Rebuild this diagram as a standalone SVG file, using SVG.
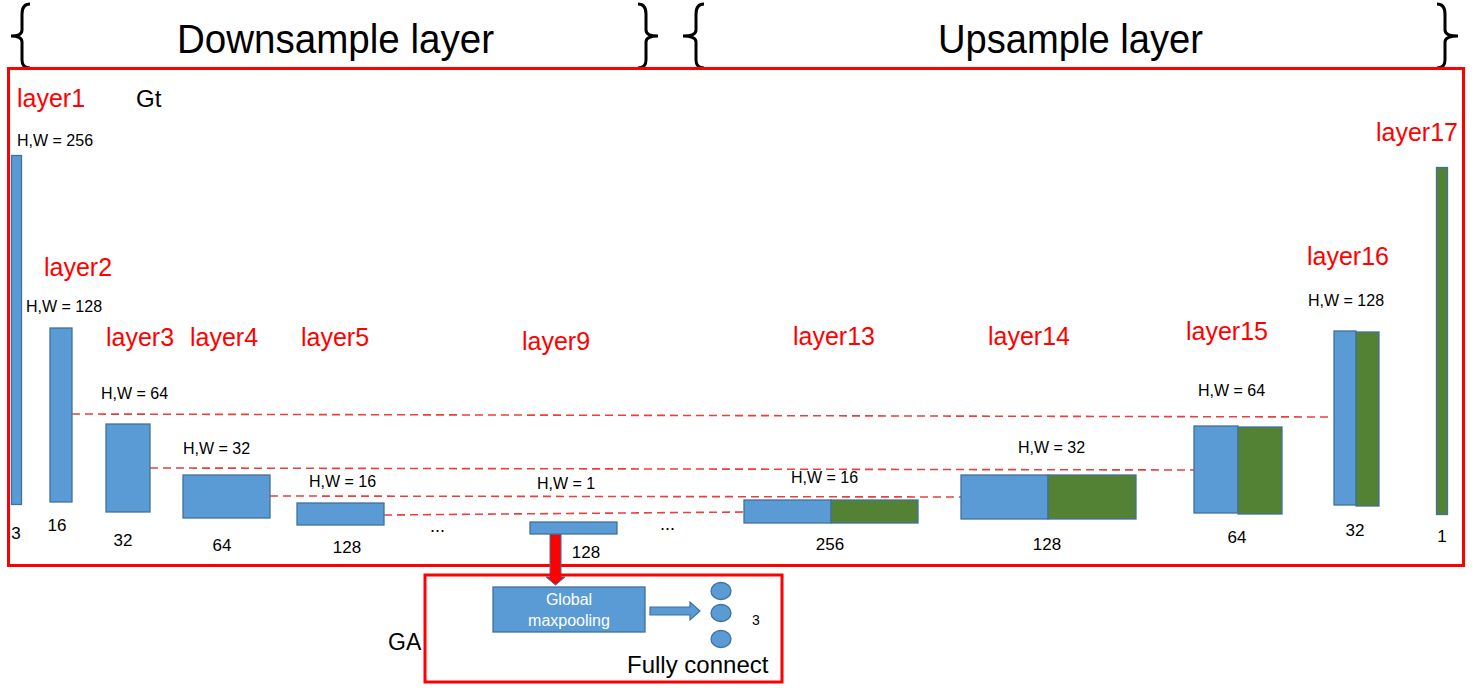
<svg xmlns="http://www.w3.org/2000/svg" width="1476" height="700" viewBox="0 0 1476 700">
<defs>
<style>
.t{font-family:"Liberation Sans",Arial,sans-serif;fill:#000}
.big{font-size:41px}
.lay{font-size:25px;fill:#ff0000}
.hw{font-size:16px}
.num{font-size:17px}
.b{fill:#5b9bd5;stroke:#41719c;stroke-width:1.3}
.g{fill:#548235;stroke:#41719c;stroke-width:1.3}
.brace{fill:none;stroke:#000;stroke-width:3}
.frame{fill:none;stroke:#ff0000;stroke-width:3}
.dash{stroke:#e8403c;stroke-width:1.6;stroke-dasharray:8 5;fill:none}
</style>
</defs>
<rect width="1476" height="700" fill="#fff"/>

<g id="braces">
<path class="brace" d="M30,4 Q22,4 22,14 L22,30 Q22,36 11,36 Q22,36 22,42 L22,60 Q22,68 30,68"/>
<path class="brace" d="M638,4 Q646,4 646,14 L646,30 Q646,36 658,36 Q646,36 646,42 L646,60 Q646,68 638,68"/>
<path class="brace" d="M704,4 Q696,4 696,14 L696,30 Q696,36 683,36 Q696,36 696,42 L696,60 Q696,68 704,68"/>
<path class="brace" d="M1437,4 Q1445,4 1445,14 L1445,30 Q1445,36 1458,36 Q1445,36 1445,42 L1445,60 Q1445,68 1437,68"/>
</g>
<text class="t big" x="177" y="53" textLength="317" lengthAdjust="spacingAndGlyphs">Downsample layer</text>
<text class="t big" x="938" y="53" textLength="265" lengthAdjust="spacingAndGlyphs">Upsample layer</text>

<g id="Gt">
<rect class="frame" x="8.5" y="68.5" width="1455" height="497"/>
<text class="t" x="136" y="107" font-size="24">Gt</text>
</g>

<g id="connectors">
<line class="dash" x1="72" y1="414" x2="1333" y2="417"/>
<line class="dash" x1="150" y1="468" x2="1194" y2="470"/>
<line class="dash" x1="270" y1="496" x2="961" y2="497"/>
<line class="dash" x1="384" y1="515" x2="744" y2="512"/>
<path d="M550,534 L550,577 L546,577 L555.5,585 L565,577 L561,577 L561,534 Z" fill="#ff0000" stroke="#41719c" stroke-width="1"/>
<path d="M650,607 L690,607 L690,602 L700,611 L690,620 L690,615 L650,615 Z" fill="#5b9bd5" stroke="#41719c" stroke-width="1.2"/>
</g>

<g id="layer1">
<text class="t lay" x="17" y="107">layer1</text>
<text class="t hw" x="17" y="146">H,W = 256</text>
<rect class="b" x="11.5" y="155.5" width="10" height="349"/>
<text class="t num" x="16" y="539" text-anchor="middle">3</text>
</g>
<g id="layer2">
<text class="t lay" x="44" y="276">layer2</text>
<text class="t hw" x="26" y="312">H,W = 128</text>
<rect class="b" x="50" y="328" width="22" height="174"/>
<text class="t num" x="57" y="531" text-anchor="middle">16</text>
</g>
<g id="layer3">
<text class="t lay" x="106" y="346">layer3</text>
<text class="t hw" x="101" y="399">H,W = 64</text>
<rect class="b" x="106" y="424" width="44" height="88"/>
<text class="t num" x="123" y="546" text-anchor="middle">32</text>
</g>
<g id="layer4">
<text class="t lay" x="190" y="346">layer4</text>
<text class="t hw" x="183" y="454">H,W = 32</text>
<rect class="b" x="183" y="475" width="87" height="43"/>
<text class="t num" x="222" y="551" text-anchor="middle">64</text>
</g>
<g id="layer5">
<text class="t lay" x="301" y="346">layer5</text>
<text class="t hw" x="309" y="487">H,W = 16</text>
<rect class="b" x="297" y="503" width="87" height="22"/>
<text class="t num" x="347" y="553" text-anchor="middle">128</text>
</g>
<text class="t" x="430" y="532" font-size="18">...</text>
<g id="layer9">
<text class="t lay" x="522" y="350">layer9</text>
<text class="t hw" x="537" y="489">H,W = 1</text>
<rect class="b" x="530" y="522" width="87" height="12"/>
<text class="t num" x="586" y="558" text-anchor="middle">128</text>
</g>
<text class="t" x="660" y="530" font-size="18">...</text>
<g id="layer13">
<text class="t lay" x="793" y="345">layer13</text>
<text class="t hw" x="791" y="483">H,W = 16</text>
<rect class="b" x="744" y="500" width="87" height="23"/>
<rect class="g" x="831" y="500" width="87" height="23"/>
<text class="t num" x="830" y="550" text-anchor="middle">256</text>
</g>
<g id="layer14">
<text class="t lay" x="988" y="345">layer14</text>
<text class="t hw" x="1018" y="453">H,W = 32</text>
<rect class="b" x="961" y="475" width="87" height="44"/>
<rect class="g" x="1048" y="475" width="88" height="44"/>
<text class="t num" x="1047" y="550" text-anchor="middle">128</text>
</g>
<g id="layer15">
<text class="t lay" x="1186" y="340">layer15</text>
<text class="t hw" x="1198" y="396">H,W = 64</text>
<rect class="b" x="1194" y="426" width="44" height="87"/>
<rect class="g" x="1238" y="427" width="44" height="87"/>
<text class="t num" x="1237" y="543" text-anchor="middle">64</text>
</g>
<g id="layer16">
<text class="t lay" x="1307" y="265">layer16</text>
<text class="t hw" x="1308" y="306">H,W = 128</text>
<rect class="b" x="1334" y="331" width="22" height="174"/>
<rect class="g" x="1356" y="332" width="23" height="174"/>
<text class="t num" x="1355" y="536" text-anchor="middle">32</text>
</g>
<g id="layer17">
<text class="t lay" x="1376" y="141">layer17</text>
<rect class="g" x="1436.5" y="167.5" width="11" height="347"/>
<text class="t num" x="1442" y="542" text-anchor="middle">1</text>
</g>

<g id="GA">
<rect class="frame" x="425" y="575" width="357" height="107"/>
<text class="t" x="388" y="650" font-size="23">GA</text>
</g>
<g id="globalmaxpooling">
<rect class="b" x="493" y="587" width="152" height="45"/>
<text class="t" x="569" y="605" font-size="16" style="fill:#fff" text-anchor="middle">Global</text>
<text class="t" x="569" y="626" font-size="16" style="fill:#fff" text-anchor="middle">maxpooling</text>
</g>
<g id="fullyconnect">
<ellipse class="b" cx="721" cy="591" rx="10" ry="8.5"/>
<ellipse class="b" cx="721" cy="613" rx="10" ry="8.5"/>
<ellipse class="b" cx="721" cy="639" rx="10" ry="8.5"/>
<text class="t" x="752" y="625" font-size="14">3</text>
<text class="t" x="627" y="673" font-size="24">Fully connect</text>
</g>
</svg>
